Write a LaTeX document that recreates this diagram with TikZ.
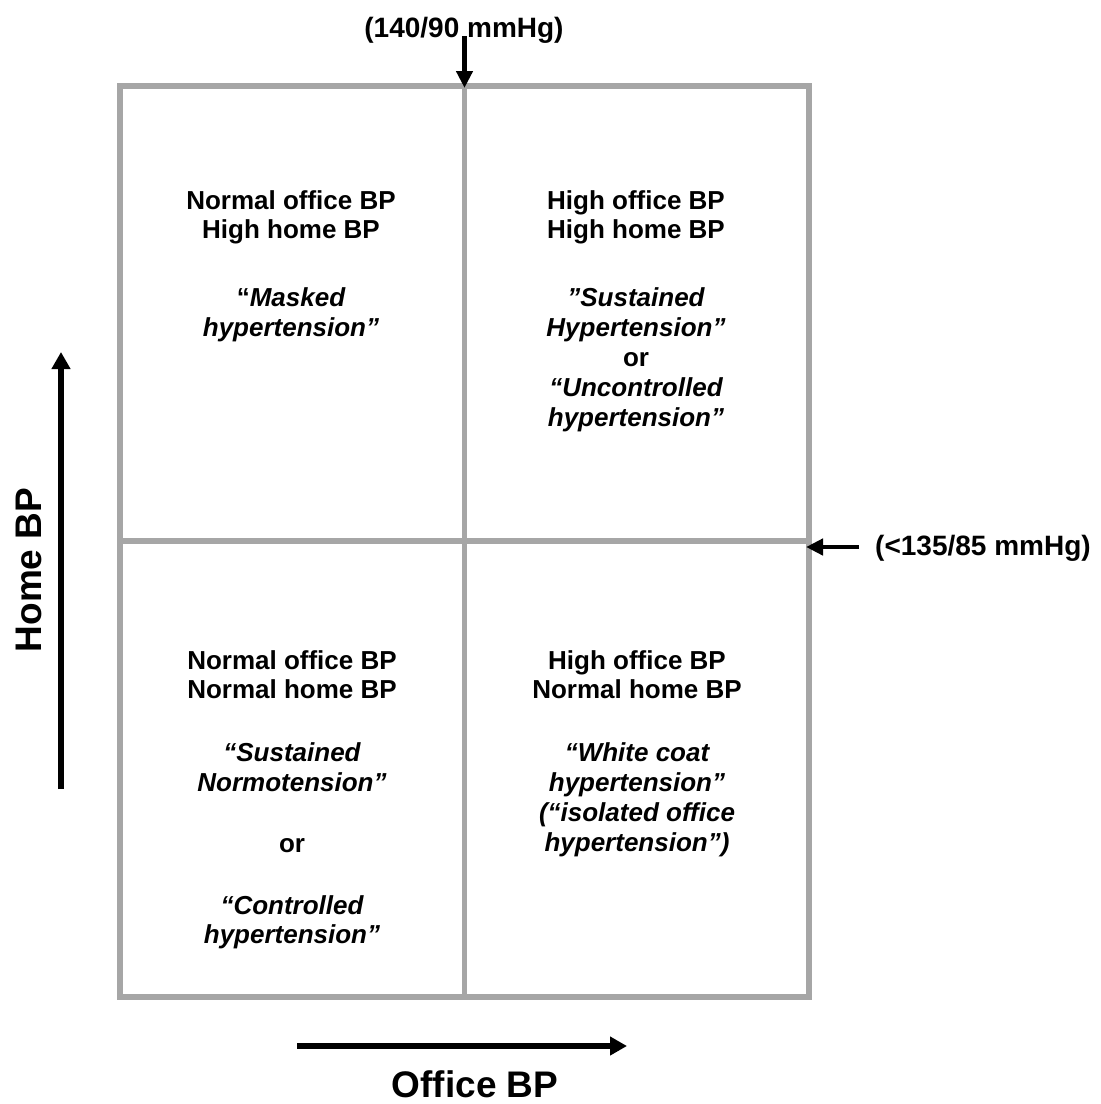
\documentclass[tikz,border=0pt]{standalone}
\usepackage{fontspec}
\setmainfont{Liberation Sans}
\usetikzlibrary{arrows.meta}
\definecolor{gridgray}{RGB}{166,166,166}
\newcommand\qfont{\bfseries\fontsize{26}{30}\selectfont}
\newcommand\lfont{\bfseries\fontsize{28}{32}\selectfont}
\newcommand\afont{\bfseries\fontsize{37}{42}\selectfont}
\begin{document}
\begin{tikzpicture}[x=1pt,y=-1pt,
  grid/.style={draw=gridgray,line width=5.5pt},
  qtext/.style={font=\qfont,anchor=base,inner sep=0pt},
  qital/.style={font=\qfont\itshape,anchor=base,inner sep=0pt},
  lbl/.style={font=\lfont,inner sep=0pt},
  axlbl/.style={font=\afont,inner sep=0pt,anchor=base},
  bigarrow/.style={line width=6pt,-{Triangle[length=17pt,width=18pt]}},
  smallarrow/.style={line width=4.5pt,-{Triangle[length=17pt,width=16pt]}}]
\useasboundingbox (0,0) rectangle (1101,1104);
% frame
\draw[grid,line width=6pt] (120,86) rectangle (809,997);
\draw[grid] (464.5,86) -- (464.5,997);
\draw[grid] (120,541) -- (809,541);
% threshold labels
\node[lbl,anchor=base] (sys) at (464,37) {(140/90 mmHg)};
\coordinate (systip) at (464.5,88);
\coordinate (sysstart) at (464.5,36);
\draw[smallarrow] (sysstart) -- (systip);
\node[lbl,anchor=base west] (home) at (875,555) {(<135/85 mmHg)};
\coordinate (hometip) at (806,547);
\coordinate (homestart) at (859,547);
\draw[smallarrow] (homestart) -- (hometip);
% axes
\coordinate (ya) at (61,789);
\coordinate (yb) at (61,352);
\draw[bigarrow] (ya) -- (yb);
\node[axlbl,rotate=90] (ylab) at (41,570) {Home BP};
\coordinate (xa) at (297,1046);
\coordinate (xb) at (627,1046);
\draw[bigarrow] (xa) -- (xb);
\node[axlbl] (xlab) at (475,1097) {Office BP};
% upper left
\node[qtext] (ul1) at (291,209) {Normal office BP};
\node[qtext] (ul2) at (291,238) {High home BP};
\node[qital] (ul3) at (291,306) {{\upshape “}Masked};
\node[qital] (ul4) at (291,336) {hypertension”};
% upper right
\node[qtext] (ur1) at (636,209) {High office BP};
\node[qtext] (ur2) at (636,238) {High home BP};
\node[qital] (ur3) at (636,306) {”Sustained};
\node[qital] (ur4) at (636,336) {Hypertension”};
\node[qtext] (ur5) at (636,366) {or};
\node[qital] (ur6) at (636,396) {“Uncontrolled};
\node[qital] (ur7) at (636,426) {hypertension”};
% lower left
\node[qtext] (ll1) at (292,669) {Normal office BP};
\node[qtext] (ll2) at (292,698) {Normal home BP};
\node[qital] (ll3) at (292,761) {“Sustained};
\node[qital] (ll4) at (292,791) {Normotension”};
\node[qtext] (ll5) at (292,852) {or};
\node[qital] (ll6) at (292,914) {“Controlled};
\node[qital] (ll7) at (292,943) {hypertension”};
% lower right
\node[qtext] (lr1) at (637,669) {High office BP};
\node[qtext] (lr2) at (637,698) {Normal home BP};
\node[qital] (lr3) at (637,761) {“White coat};
\node[qital] (lr4) at (637,791) {hypertension”};
\node[qital] (lr5) at (637,821) {(“isolated office};
\node[qital] (lr6) at (637,851) {hypertension”)};
\end{tikzpicture}
\end{document}
